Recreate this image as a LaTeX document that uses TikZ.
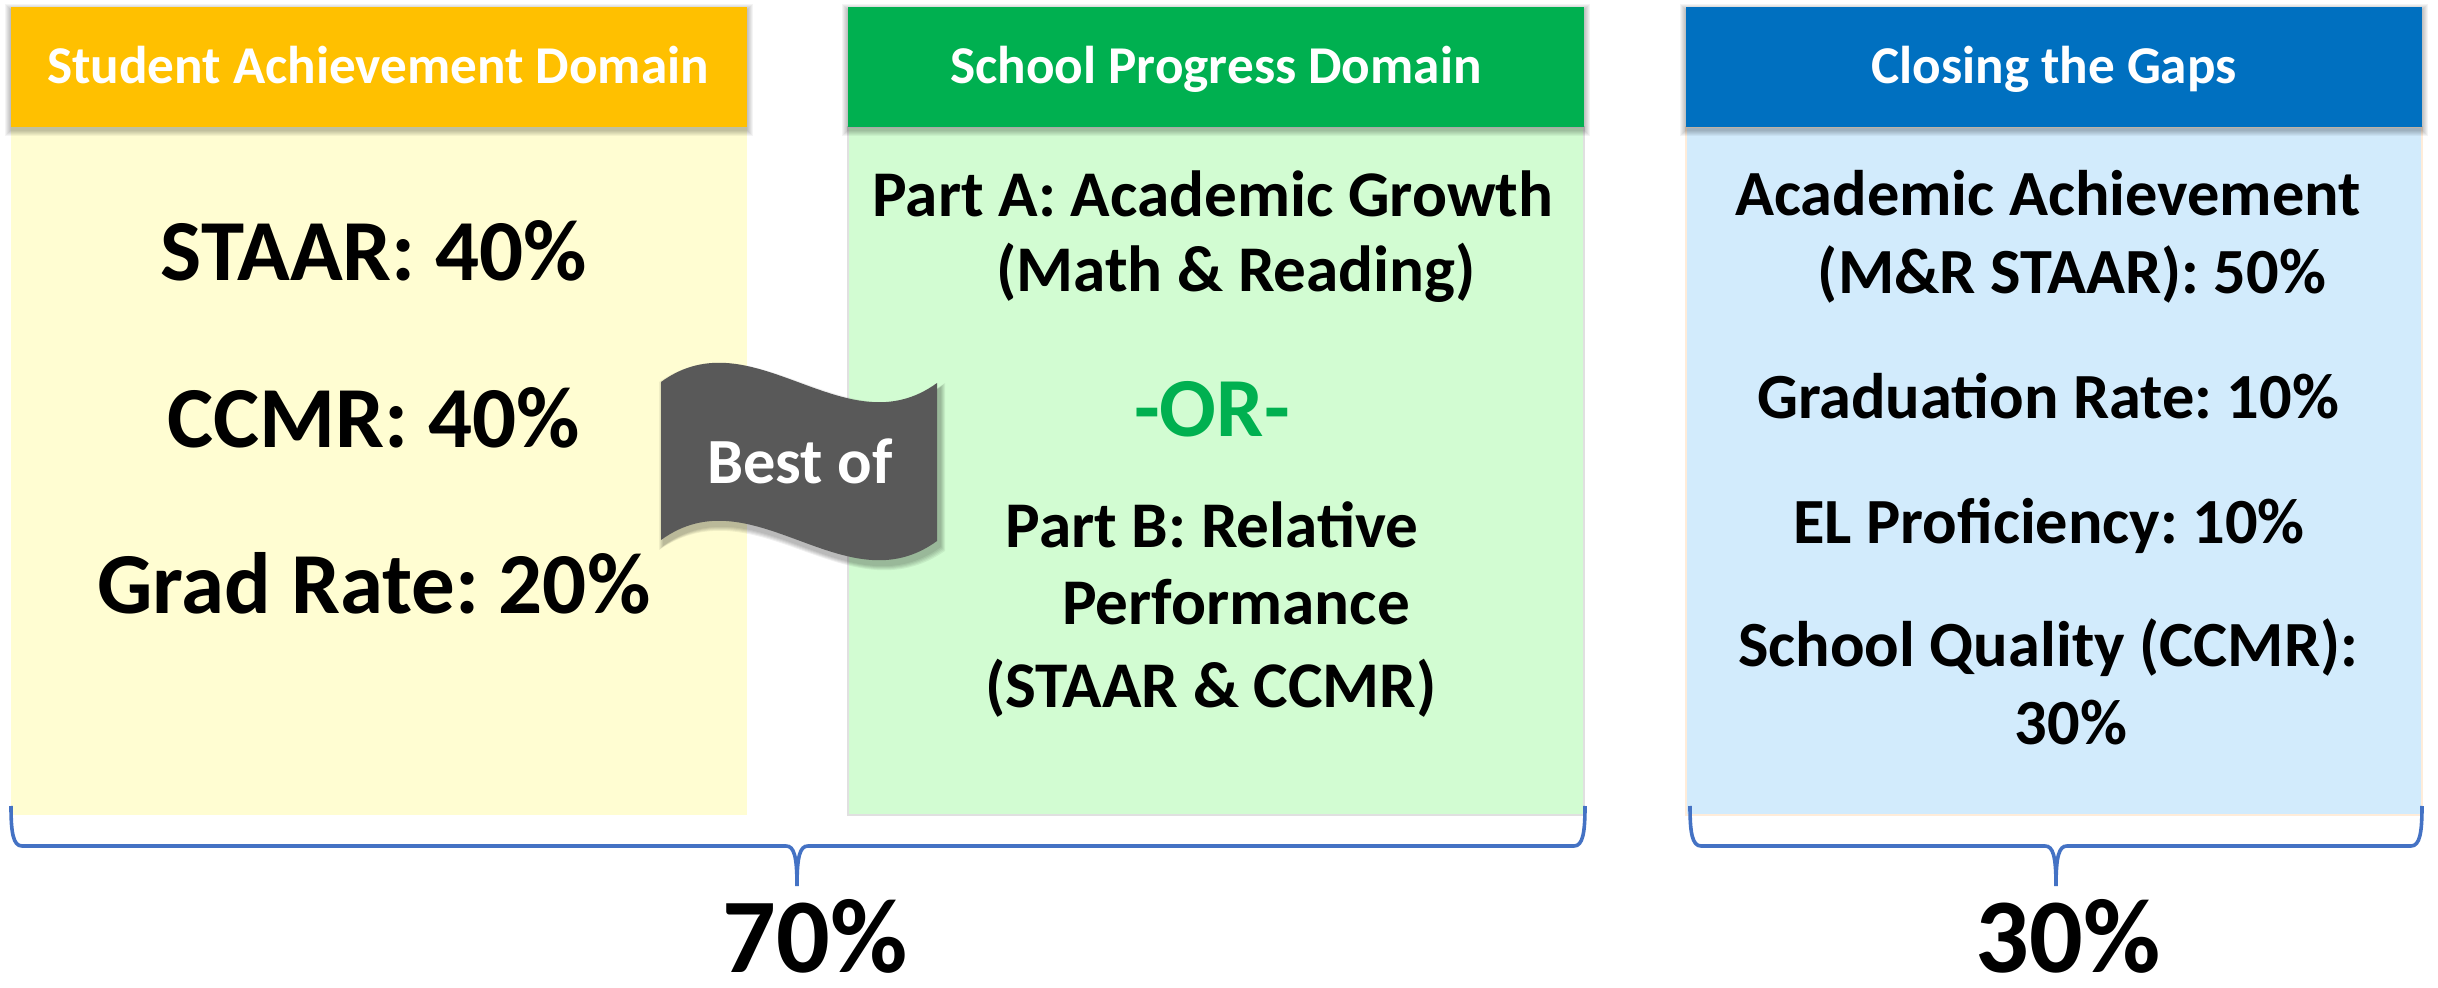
\documentclass[tikz,border=0pt]{standalone}
\usepackage{fontspec}
\setmainfont{Carlito}
\frenchspacing
\definecolor{hdrY}{HTML}{FFC000}
\definecolor{hdrG}{HTML}{00B050}
\definecolor{hdrB}{HTML}{0070C0}
\definecolor{bodyY}{HTML}{FFFDD2}
\definecolor{bodyG}{HTML}{D2FCD2}
\definecolor{bodyB}{HTML}{D2EBFC}
\definecolor{braceC}{HTML}{4472C4}
\definecolor{bannerC}{HTML}{595959}
\definecolor{orC}{HTML}{00B050}
\tikzset{
  hdrtext/.style={anchor=base, text=white, inner sep=0pt, font=\frenchspacing\bfseries\fontsize{26.6}{31}\selectfont},
  bigtext/.style={anchor=base, text=black, inner sep=0pt, font=\frenchspacing\bfseries\fontsize{43.5}{52}\selectfont},
  midtext/.style={anchor=base, text=black, inner sep=0pt, font=\frenchspacing\bfseries\fontsize{32.6}{39}\selectfont},
  bluetext/.style={anchor=base, text=black, inner sep=0pt, font=\frenchspacing\bfseries\fontsize{32.2}{39}\selectfont},
  ortext/.style={anchor=base, text=orC, inner sep=0pt, font=\frenchspacing\bfseries\fontsize{42}{50}\selectfont},
  bannertext/.style={anchor=base, text=white, inner sep=0pt, font=\frenchspacing\bfseries\fontsize{32.2}{38}\selectfont},
  pcttext/.style={anchor=base, text=black, inner sep=0pt, font=\frenchspacing\bfseries\fontsize{53}{63}\selectfont},
  bracestyle/.style={draw=braceC, line width=1.8pt},
}
\newcommand{\hdrshadow}[4]{%
  \foreach \i in {1,...,6}{
    \fill[black, opacity=0.045] (#1-\i,#2-\i+3) rectangle (#3+\i,#4+\i+3);
  }%
}
\begin{document}
\begin{tikzpicture}[x=0.5pt,y=-0.5pt]
\useasboundingbox (0,0) rectangle (2438,988);
\fill[white] (0,0) rectangle (2438,988);

% bodies
\fill[bodyY] (11,127) rectangle (747,815);
\filldraw[fill=bodyG, draw=black!12, line width=0.6pt] (848,127) rectangle (1584,815);
\filldraw[fill=bodyB, draw=orange!15, line width=0.6pt] (1686,127) rectangle (2422,815);

% header shadows
\hdrshadow{11}{7}{747}{127}
\hdrshadow{848}{7}{1584}{127}
\hdrshadow{1686}{7}{2422}{127}

% headers
\fill[hdrY] (11,7) rectangle (747,127);
\fill[hdrG] (848,7) rectangle (1584,127);
\fill[hdrB] (1686,7) rectangle (2422,127);

\node[hdrtext] (h1) at (378,84) {Student Achievement Domain};
\node[hdrtext] (h2) at (1216,84) {School Progress Domain};
\node[hdrtext] (h3) at (2054,84) {Closing the Gaps};

% yellow body
\node[bigtext] (y1) at (374,281) {STAAR: 40\%};
\node[bigtext] (y2) at (374,448) {CCMR: 40\%};
\node[bigtext] (y3) at (374,614) {Grad Rate: 20\%};

% green body
\node[midtext] (g1) at (1213,217) {Part A: Academic Growth};
\node[midtext] (g2) at (1236,292) {(Math \& Reading)};
\node[ortext]  (g3) at (1212,437) {-OR-};
\node[midtext] (g4) at (1212,548) {Part B: Relative};
\node[midtext] (g5) at (1236,625) {Performance};
\node[midtext] (g6) at (1211,708) {(STAAR \& CCMR)};

% blue body
\node[bluetext] (b1) at (2048,216) {Academic Achievement};
\node[bluetext] (b2) at (2072,294) {(M\&R STAAR): 50\%};
\node[bluetext] (b3) at (2048,419) {Graduation Rate: 10\%};
\node[bluetext] (b4) at (2049,544) {EL Proficiency: 10\%};
\node[bluetext] (b5) at (2048,667) {School Quality (CCMR):};
\node[bluetext] (b6) at (2071,745) {30\%};

% banner shadow
\foreach \i in {1,...,5}{
  \fill[black, opacity=0.06, shift={(3,5)}]
    (661-\i,382-\i) .. controls (753,315-\i) and (845,450-\i) .. (937+\i,383-\i)
    -- (937+\i,541+\i) .. controls (845,608+\i) and (753,473+\i) .. (661-\i,540+\i) -- cycle;
}
% banner
\fill[bannerC] (661,382) .. controls (753,315) and (845,450) .. (937,383)
  -- (937,541) .. controls (845,608) and (753,473) .. (661,540) -- cycle;
\node[bannertext] (best) at (800,484) {Best of};

% braces
\draw[bracestyle] (11,806) .. controls (11,832) and (13,846) .. (22,846) -- (786,846)
  .. controls (794,846) and (797,856) .. (797,886);
\draw[bracestyle] (1585,806) .. controls (1585,832) and (1583,846) .. (1574,846) -- (808,846)
  .. controls (800,846) and (797,856) .. (797,886);
\draw[bracestyle] (1690,806) .. controls (1690,832) and (1692,846) .. (1701,846) -- (2045,846)
  .. controls (2053,846) and (2056,856) .. (2056,886);
\draw[bracestyle] (2422,806) .. controls (2422,832) and (2420,846) .. (2411,846) -- (2067,846)
  .. controls (2059,846) and (2056,856) .. (2056,886);

% percentages
\node[pcttext] (p70) at (815,972) {70\%};
\node[pcttext] (p30) at (2068,972) {30\%};
\end{tikzpicture}
\end{document}
